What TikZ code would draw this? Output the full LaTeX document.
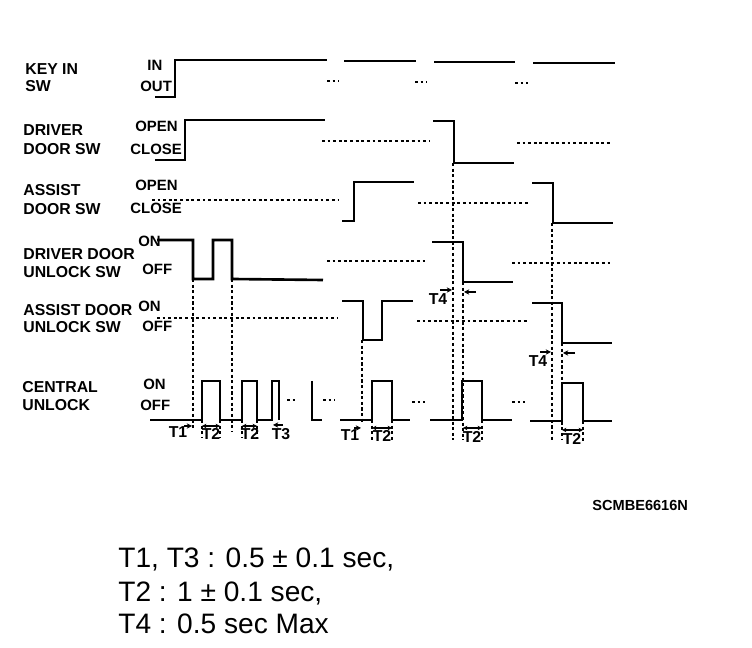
\documentclass[tikz,border=0pt]{standalone}
\usepackage{fontspec}
\setmainfont{Liberation Sans}
\usetikzlibrary{arrows.meta}

\begin{document}
\begin{tikzpicture}[x=0.02cm, y=-0.02cm,
    wave/.style={line width=1.5pt},
    idle/.style={line width=0.6pt, dash pattern=on 1.6pt off 1.6pt},
    guide/.style={line width=0.7pt, dash pattern=on 1.8pt off 1.4pt},
    tip/.style={-{Stealth[length=3pt,width=3pt]}, line width=0.7pt},
    tips/.style={{Stealth[length=2.5pt,width=2.5pt]}-{Stealth[length=2.5pt,width=2.5pt]}, line width=0.6pt},
    sw/.style={font=\bfseries\fontsize{9}{10}\selectfont, anchor=base west, inner sep=0pt},
    lvl/.style={font=\bfseries\fontsize{8.5}{10}\selectfont, anchor=base west, inner sep=0pt},
    tm/.style={font=\bfseries\fontsize{9}{10}\selectfont, anchor=base, inner sep=0pt},
    spec/.style={font=\fontsize{16}{19}\selectfont, anchor=base west, inner sep=0pt}]
  \useasboundingbox (0,0) rectangle (752,648);

  \node[sw] (keysw1) at (25,75) {KEY IN};
  \node[sw] (keysw2) at (25,92) {SW};
  \node[lvl] (keyin) at (147,71) {IN};
  \node[lvl] (keyout) at (140,92) {OUT};
  \node[sw] (drv1) at (23,136) {DRIVER};
  \node[sw] (drv2) at (23,155) {DOOR SW};
  \node[lvl] (drvopen) at (135,132) {OPEN};
  \node[lvl] (drvclose) at (130,155) {CLOSE};
  \node[sw] (ast1) at (23,196) {ASSIST};
  \node[sw] (ast2) at (23,215) {DOOR SW};
  \node[lvl] (astopen) at (135,191) {OPEN};
  \node[lvl] (astclose) at (130,214) {CLOSE};
  \node[sw] (dul1) at (23,260) {DRIVER DOOR};
  \node[sw] (dul2) at (23,278) {UNLOCK SW};
  \node[lvl] (dulon) at (138,247) {ON};
  \node[lvl] (duloff) at (142,275) {OFF};
  \node[sw] (aul1) at (23,316) {ASSIST DOOR};
  \node[sw] (aul2) at (23,333) {UNLOCK SW};
  \node[lvl] (aulon) at (138,312) {ON};
  \node[lvl] (auloff) at (142,332) {OFF};
  \node[sw] (cu1) at (22,393) {CENTRAL};
  \node[sw] (cu2) at (22,411) {UNLOCK};
  \node[lvl] (cuon) at (143,390) {ON};
  \node[lvl] (cuoff) at (140,411) {OFF};

  \draw[wave] (155,97) -- (175,97) -- (175,60) -- (327,60);
  \draw[wave] (344,61) -- (416,61);
  \draw[wave] (434,62) -- (515,62);
  \draw[wave] (533,63) -- (615,63);
  \draw[idle] (327,81) -- (339,81) (415,82) -- (427,82) (515,83) -- (528,83);

  \draw[wave] (155,160) -- (185,160) -- (185,120) -- (325,120);
  \draw[idle] (322,141) -- (430,141);
  \draw[wave] (433,121) -- (454,121) -- (454,163) -- (514,163);
  \draw[idle] (517,143) -- (612,143);

  \draw[idle] (152,200) -- (338,200);
  \draw[wave] (342,221) -- (354,221) -- (354,182) -- (414,182);
  \draw[idle] (418,203) -- (528,203);
  \draw[wave] (532,183) -- (553,183) -- (553,223) -- (613,223);

  \draw[wave] (157,240) -- (193,240) -- (193,279) -- (213,279) -- (213,240) -- (232,240) -- (232,279) -- (323,280);
  \draw[idle] (327,261) -- (427,261);
  \draw[wave] (432,242) -- (463,242) -- (463,282) -- (513,282);
  \draw[idle] (512,263) -- (612,263);

  \draw[idle] (157,318) -- (337,318);
  \draw[wave] (342,301) -- (363,301) -- (363,340) -- (382,340) -- (382,301) -- (413,301);
  \draw[idle] (417,321) -- (528,321);
  \draw[wave] (532,303) -- (562,303) -- (562,343) -- (612,343);

  \draw[wave] (150,420) -- (202,420) -- (202,381) -- (220,381) -- (220,420) -- (242,420) -- (242,381) -- (257,381) -- (257,420) -- (272,420) -- (272,381) -- (279,381) -- (279,420);
  \draw[idle] (287,400) -- (298,400) (323,400) -- (335,400) (412,402) -- (425,402) (512,402) -- (525,402);
  \draw[wave] (312,381) -- (312,420) -- (322,420);
  \draw[wave] (340,420) -- (372,420) -- (372,381) -- (392,381) -- (392,420) -- (410,420);
  \draw[wave] (430,420) -- (462,420) -- (462,381) -- (482,381) -- (482,420) -- (512,420);
  \draw[wave] (530,421) -- (562,421) -- (562,383) -- (583,383) -- (583,421) -- (612,421);

  \draw[guide] (193,279) -- (193,428) (232,279) -- (232,432) (362,340) -- (362,422);
  \draw[guide] (453,163) -- (453,440) (463,282) -- (463,440);
  \draw[guide] (552,223) -- (552,440) (562,343) -- (562,440);
  \draw[guide] (202,420) -- (202,438) (220,420) -- (220,438) (242,420) -- (242,438) (257,420) -- (257,438);
  \draw[guide] (372,420) -- (372,440) (392,420) -- (392,440) (482,420) -- (482,440) (583,421) -- (583,442);

  \node[tm] (t1a) at (178,438) {T1};
  \draw[tip] (184,426) -- (192,426);
  \node[tm] (t2a) at (211,440) {T2};
  \draw[tips] (202,426) -- (220,426);
  \node[tm] (t2b) at (250,440) {T2};
  \draw[tips] (242,426) -- (257,426);
  \node[tm] (t3) at (281,440) {T3};
  \draw[tip] (283,425) -- (273,425);
  \node[tm] (t1b) at (350,441) {T1};
  \draw[tip] (354,428) -- (361,428);
  \node[tm] (t2c) at (382,442) {T2};
  \draw[tips] (372,428) -- (392,428);
  \node[tm] (t2d) at (472,443) {T2};
  \draw[tips] (463,428) -- (482,428);
  \node[tm] (t2e) at (572,445) {T2};
  \draw[tips] (562,430) -- (583,430);

  \node[tm] (t4a) at (438,305) {T4};
  \draw[tip] (440,290) -- (452,290);
  \draw[tip] (476,292) -- (464,292);
  \node[tm] (t4b) at (538,367) {T4};
  \draw[tip] (540,352) -- (551,352);
  \draw[tip] (575,353) -- (563,353);

  \node[font=\bfseries\fontsize{8.3}{10}\selectfont, anchor=base west, inner sep=0pt] (figid) at (592,511) {SCMBE6616N};
  \node[spec] (spec1) at (118,568) {T1, T3 : 0.5 ± 0.1 sec,};
  \node[spec] (spec2) at (118,602) {T2 : 1 ± 0.1 sec,};
  \node[spec] (spec3) at (118,634) {T4 : 0.5 sec Max};
\end{tikzpicture}
\end{document}
